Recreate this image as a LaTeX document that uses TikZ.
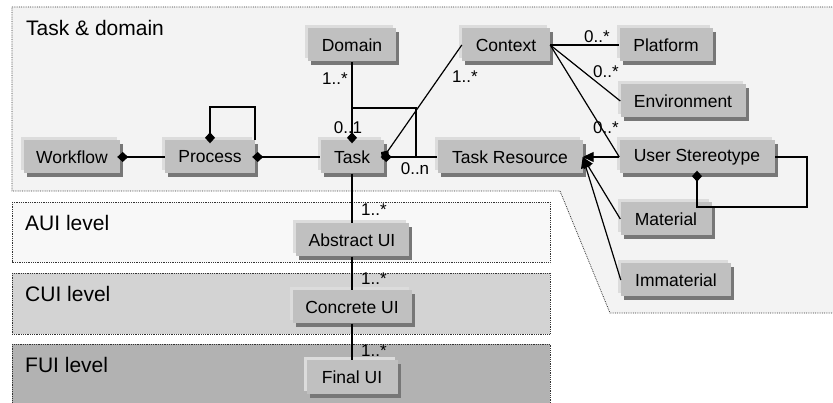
\documentclass[tikz,border=0pt]{standalone}
\usepackage{fontspec}
\setmainfont{Liberation Sans}
\usetikzlibrary{arrows.meta,shadows}

\definecolor{paneltd}{HTML}{F3F3F3}
\definecolor{panelaui}{HTML}{F8F8F8}
\definecolor{panelcui}{HTML}{D3D3D3}
\definecolor{panelfui}{HTML}{B2B2B2}
\definecolor{boxfill}{HTML}{C0C0C0}
\definecolor{boxlight}{HTML}{DCDCDC}
\definecolor{boxdark}{HTML}{777777}

\begin{document}
\begin{tikzpicture}[
  x=1pt, y=-1pt,
  font=\fontsize{17.5}{20}\selectfont,
  panel/.style={draw=black!80, densely dotted, line width=0.8pt},
  level/.style={anchor=base west, inner sep=0pt, font=\fontsize{21}{24}\selectfont},
  cls/.style={fill=boxfill, minimum height=33pt, inner sep=0pt,
    general shadow={shadow xshift=-3pt, shadow yshift=3pt, fill=boxlight},
    general shadow={shadow xshift=3pt, shadow yshift=-4pt, fill=boxdark}},
  line/.style={line width=1.2pt},
  comp/.style={line, {Diamond[length=11pt,width=10pt]}-, shorten <=-3pt},
  gen/.style={line, -{Triangle[length=11pt,width=10pt]}},
  mult/.style={inner sep=0pt, font=\fontsize{17}{19}\selectfont}
]
\useasboundingbox (0,0) rectangle (833,403);

% level panels
\path[panel, fill=paneltd] (12,7) -- (845,7) -- (845,313) -- (610,313)
  -- (560,191) -- (12,191) -- cycle;
\path[panel, fill=panelaui] (12,202) rectangle (550,262);
\path[panel, fill=panelcui] (12,273) rectangle (550,334);
\path[panel, fill=panelfui] (12,344) rectangle (550,415);

\node[level] (tdtitle)  at (26,36)  {Task \& domain};
\node[level] (auititle) at (25,231) {AUI level};
\node[level] (cuititle) at (25,302) {CUI level};
\node[level] (fuititle) at (25,373) {FUI level};

% classes
\node[cls, minimum width=96pt]  (workflow)    at (72,157)  {Workflow};
\node[cls, minimum width=90pt]  (process)     at (210,157) {Process};
\node[cls, minimum width=63pt]  (task)        at (352,157) {Task};
\node[cls, minimum width=88pt]  (domain)      at (352,45)  {Domain};
\node[cls, minimum width=88pt]  (context)     at (506,45)  {Context};
\node[cls, minimum width=93pt]  (platform)    at (666,45)  {Platform};
\node[cls, minimum width=125pt] (environment) at (683,101) {Environment};
\node[cls, minimum width=145pt] (taskres)     at (510,157) {Task Resource};
\node[cls, minimum width=155pt] (userst)      at (697,157) {User Stereotype};
\node[cls, minimum width=91pt]  (material)    at (666,219) {Material};
\node[cls, minimum width=110pt] (immaterial)  at (676,280) {Immaterial};
\node[cls, minimum width=113pt] (aui)         at (352,240) {Abstract UI};
\node[cls, minimum width=119pt] (cui)         at (352,307) {Concrete UI};
\node[cls, minimum width=91pt]  (fui)         at (352,377) {Final UI};

% associations
\draw[comp] (workflow.east) -- (process.west);
\draw[comp] (process.east) -- (task.west);
\coordinate (ploop) at (255,107);
\draw[comp] (process.north) |- (ploop) -- (ploop |- process.north);

\draw[comp] (task.north) -- (domain.south);
\coordinate (tloop) at (416,108);
\draw[line] (task.north) |- (tloop) -- (tloop |- task.east);
\draw[comp] (task.east) -- (taskres.west);
\draw[comp] (task.east) -- (context.west);

\draw[line] (context.east) -- (platform.west);
\draw[line] (context.east) -- (environment.west);
\draw[line] (context.east) -- (userst.west);

\draw[gen] (userst.west) -- (taskres.east);
\draw[gen] (material.west) -- (taskres.east);
\draw[gen] (immaterial.west) -- (taskres.east);
\coordinate (usloop) at (807,207);
\draw[comp] (userst.south) |- (usloop) |- (userst.east);

\draw[line] (task.south) -- (aui.north);
\draw[line] (aui.south) -- (cui.north);
\draw[line] (cui.south) -- (fui.north);

% multiplicities
\node[mult] (mdom)  at (335,79)  {1..*};
\node[mult] (mtop)  at (348,128) {0..1};
\node[mult] (mres)  at (415,169) {0..n};
\node[mult] (mctx)  at (465,77)  {1..*};
\node[mult] (mplat) at (597,37)  {0..*};
\node[mult] (menv)  at (606,72)  {0..*};
\node[mult] (muser) at (606,128) {0..*};
\node[mult] (maui)  at (374,210) {1..*};
\node[mult] (mcui)  at (374,279) {1..*};
\node[mult] (mfui)  at (374,351) {1..*};
\end{tikzpicture}
\end{document}
